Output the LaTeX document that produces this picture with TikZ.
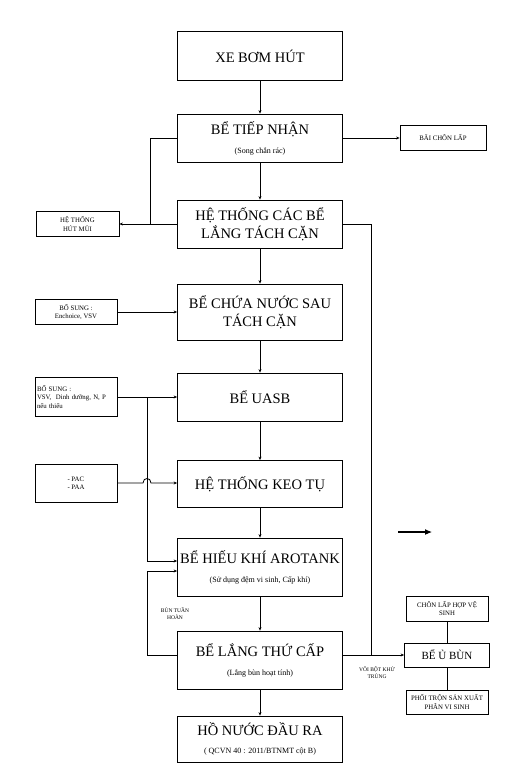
\documentclass[tikz,border=0pt]{standalone}
\usepackage{fontspec}
\setmainfont{Liberation Serif}
\usetikzlibrary{arrows.meta}

\newcommand{\subtext}[1]{{\fontsize{8}{10}\selectfont #1}}

\tikzset{
  stage/.style ={draw, minimum width=165pt, align=center, inner sep=2pt,
    font=\fontsize{14.5}{18}\selectfont},
  sidebox/.style={draw, minimum width=82pt, minimum height=25pt, align=center,
    inner sep=2pt, font=\fontsize{6.8}{8.5}\selectfont},
  flow/.style={-{Stealth[length=3.5pt,width=3pt]}},
  note/.style={align=center, inner sep=0pt, font=\fontsize{5.5}{7}\selectfont},
}

\begin{document}
\begin{tikzpicture}[x=1pt, y=-1pt, line width=0.8pt]
  \useasboundingbox (0,0) rectangle (532,771);
  \node[stage, minimum height=49pt] (xe) at (260, 56) {XE BƠM HÚT};
  \node[stage, minimum height=48pt] (tiep) at (260, 138) {BỂ TIẾP NHẬN\\[1pt]\subtext{(Song chắn rác)}};
  \node[stage, minimum height=48pt] (tach) at (260, 224) {HỆ THỐNG CÁC BỂ\\LẮNG TÁCH CẶN};
  \node[stage, minimum height=56pt] (chua) at (260, 312) {BỂ CHỨA NƯỚC SAU\\TÁCH CẶN};
  \node[stage, minimum height=48pt] (uasb) at (260, 397) {BỂ UASB};
  \node[stage, minimum height=47pt] (keo) at (260, 484) {HỆ THỐNG KEO TỤ};
  \node[stage, minimum height=58pt] (hieu) at (260, 567) {BỂ HIẾU KHÍ AROTANK\\[1pt]\subtext{(Sử dụng đệm vi sinh, Cấp khí)}};
  \node[stage, minimum height=58pt] (lang) at (260, 660) {BỂ LẮNG THỨ CẤP\\[1pt]\subtext{(Lắng bùn hoạt tính)}};
  \node[stage, minimum height=46pt] (ho) at (260, 739) {HỒ NƯỚC ĐẦU RA\\\subtext{( QCVN 40 : 2011/BTNMT cột B)}};
  \node[sidebox, minimum width=86pt] (bai) at (443, 138) {BÃI CHÔN LẤP};
  \node[sidebox, minimum width=83pt] (hut) at (77.5, 224) {HỆ THỐNG\\HÚT MÙI};
  \node[sidebox] (bs1) at (76, 312) {BỔ SUNG :\\Enchoice, VSV};
  \node[sidebox, minimum height=39pt, text width=78pt, align=left] (bs2) at (76, 397) {BỔ SUNG :\\VSV,~ Dinh dưỡng, N, P\\nếu thiếu};
  \node[sidebox, minimum height=38pt, align=left] (pac) at (76, 483) {- PAC\\- PAA};
  \node[sidebox] (chon) at (447, 608.5) {CHÔN LẤP HỢP VỆ\\SINH};
  \node[sidebox, minimum width=85pt, minimum height=24pt, font=\fontsize{11}{13}\selectfont] (u) at (447, 655) {BỂ Ủ BÙN};
  \node[sidebox, minimum height=24pt] (phoi) at (447, 702) {PHỐI TRỘN SẢN XUẤT\\PHÂN VI SINH};
  \node[note] (tuan) at (175, 614) {BÙN TUẦN\\HOÀN};
  \node[note] (voi) at (377, 673) {VÔI BỘT KHỬ\\TRÙNG};
  \coordinate (jhut) at (150, 224);
  \coordinate (jvoi) at (371, 655);
  \coordinate (jbs) at (147, 397);
  \coordinate (jtuan) at (147, 655);
  \coordinate (hopa) at (143, 483);
  \coordinate (hopb) at (151, 483);
  \coordinate (arrs) at (398, 532);
  \coordinate (arre) at (432, 532);
  % main line
  \draw[flow] (xe) -- (tiep);
  \draw[flow] (tiep) -- (tach);
  \draw[flow] (tach) -- (chua);
  \draw[flow] (chua) -- (uasb);
  \draw[flow] (uasb) -- (keo);
  \draw[flow] (keo) -- (hieu);
  \draw[flow] (hieu) -- (lang);
  \draw[flow] (lang) -- (ho);
  % side lines
  \draw[flow] (tiep.east) -- (tiep.east -| bai.west);
  \draw (tiep.west) -| (jhut);
  \draw[flow] (tach.west) -- (tach.west -| hut.east);
  \draw (tach.east) -| (jvoi);
  \draw[flow] (lang.east |- jvoi) -- (u.west);
  \draw[flow] (bs1.east) -- (bs1.east -| chua.west);
  \draw[flow] (bs2.east) -- (bs2.east -| uasb.west);
  \draw[flow] (jbs) |- ([yshift=6pt]hieu.west);
  \draw[flow] (pac.east) -- (hopa) .. controls (143, 477) and (151, 477) .. (hopb) -- (pac.east -| keo.west);
  \draw[flow] (lang.west |- jtuan) -- (jtuan) |- ([yshift=-4pt]hieu.west);
  \draw (u.north) -- (u.north |- chon.south);
  \draw (u.south) -- (u.south |- phoi.north);
  \draw[line width=1.1pt, -{Latex[length=7pt,width=6pt]}] (arrs) -- (arre);
\end{tikzpicture}
\end{document}
